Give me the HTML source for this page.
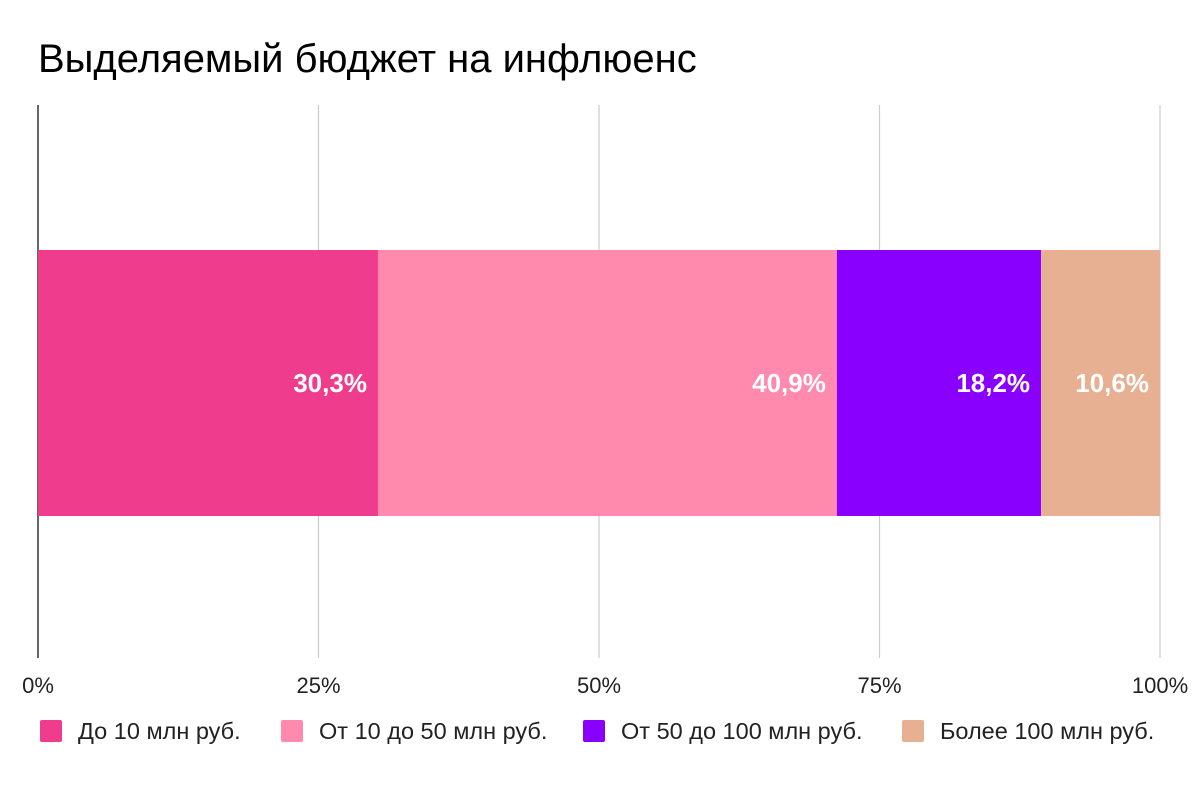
<!DOCTYPE html>
<html><head><meta charset="utf-8"><style>
body{margin:0;background:#fff;font-family:"Liberation Sans",Arial,sans-serif;}
</style></head><body>
<svg width="1200" height="784" xmlns="http://www.w3.org/2000/svg">
<text x="38" y="72" font-size="40" fill="#000">Выделяемый бюджет на инфлюенс</text>
<g id="grid"></g>
<g id="bars"></g>
<g id="labels"></g>
<g id="ticks"></g>
<g id="legend"></g>
</svg>
<script>
const categories=["До 10 млн руб.","От 10 до 50 млн руб.","От 50 до 100 млн руб.","Более 100 млн руб."];
const values=[30.3,40.9,18.2,10.6];
const valueLabels=["30,3%","40,9%","18,2%","10,6%"];
const tickValues=[0,25,50,75,100];
const tickLabels=["0%","25%","50%","75%","100%"];
const colors=["#f03c8c","#ff8aae","#8a00ff","#e8b093"];
const NS="http://www.w3.org/2000/svg";
const x0=38,x1=1160,yTop=105,yBot=658,barY=250,barH=266;
function xs(v){return x0+(x1-x0)*v/100;}
function mk(t,a,p){const e=document.createElementNS(NS,t);for(const k in a)e.setAttribute(k,a[k]);p.appendChild(e);return e;}
const grid=document.getElementById('grid'),ticks=document.getElementById('ticks');
tickValues.forEach((v,i)=>{
  const l=mk('line',{x1:xs(v),x2:xs(v),y1:yTop,y2:yBot,stroke:i==0?'#333':'#ccc','stroke-width':i==0?1.5:1.2},grid);
  
  
  const t=mk('text',{x:xs(v),y:693,'font-size':22,'text-anchor':'middle',fill:'#222'},ticks);
  t.textContent=tickLabels[i];
  
  
});
const bars=document.getElementById('bars'),labels=document.getElementById('labels');
let cum=0;
values.forEach((v,i)=>{
  const a=xs(cum),b=xs(cum+v);cum+=v;
  const r=mk('rect',{x:a,y:barY,width:b-a,height:barH,fill:colors[i]},bars);
  
  
  const t=mk('text',{x:b-11,y:392,'font-size':26,'font-weight':'bold','text-anchor':'end',fill:'#fff'},labels);
  t.textContent=valueLabels[i];
  
  
});
const leg=document.getElementById('legend');
const lx=[40,281,583,902];
categories.forEach((c,i)=>{
  const g=mk('g',{},leg);
  
  
  mk('rect',{x:lx[i],y:720,width:22,height:22,rx:2,fill:colors[i]},g);
  const t=mk('text',{x:lx[i]+38,y:739,'font-size':23.5,fill:'#222'},g);
  t.textContent=c;
});
</script>
</body></html>
